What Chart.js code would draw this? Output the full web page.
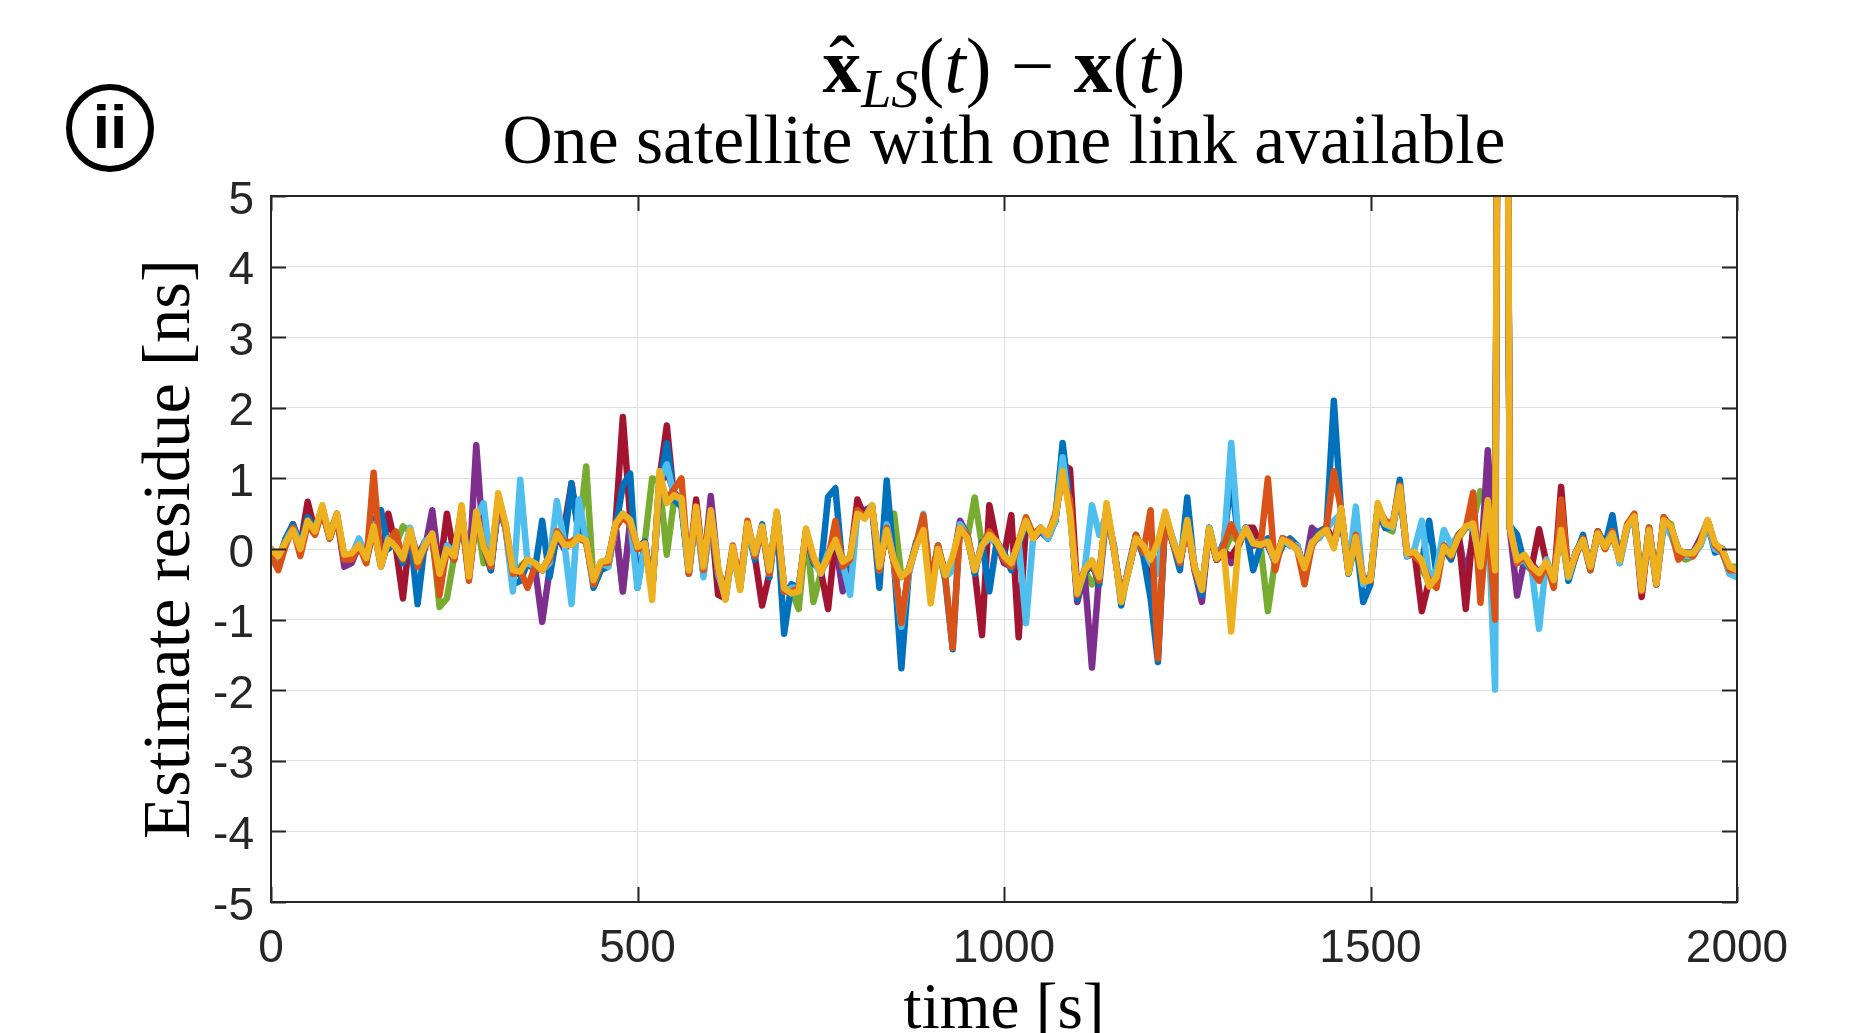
<!DOCTYPE html>
<html>
<head>
<meta charset="utf-8">
<title>Estimate residue</title>
<script src="https://cdn.jsdelivr.net/npm/chart.js@4.4.0/dist/chart.umd.min.js"></script>
<style>
  html, body { margin: 0; padding: 0; background: #ffffff; }
  #wrap { width: 1854px; height: 1033px; }
</style>
</head>
<body>
<div id="wrap"><canvas id="residueChart" width="1854" height="1033"></canvas></div>
<script>
// sample times [s], one every 10 s
const times = Array.from({ length: 201 }, (_, i) => i * 10);

const xTicks = [0, 500, 1000, 1500, 2000];
const yTicks = [-5, -4, -3, -2, -1, 0, 1, 2, 3, 4, 5];

// residues [ns] (one run per colour)
const run1 = [ // blue
  -0.05,-0.2,0.15,0.35,0.05,0.45,0.3,0.5,0.2,0.45,-0.15,-0.1,0.1,-0.1,0.4,0.55,0.0,0.1,-0.2,0.2,
  -0.78,0.1,0.2,-0.45,0.05,-0.15,0.45,-0.4,0.45,0.1,-0.3,0.6,0.3,-0.5,-0.45,-0.2,-0.3,0.4,-0.4,0.2,
  0.1,0.93,0.2,0.15,-0.55,-0.3,-0.25,0.3,0.9,1.07,-0.55,0.1,-0.6,0.9,1.5,0.7,0.6,-0.35,0.55,-0.35,
  0.45,-0.3,-0.6,0.0,-0.55,0.3,-0.15,0.35,-0.4,0.45,-1.2,-0.5,-0.55,0.2,-0.2,-0.3,0.74,0.86,-0.3,-0.2,
  0.55,0.45,0.6,-0.55,0.97,-0.2,-1.69,-0.35,0.1,0.3,-0.55,0.05,-0.45,-1.42,0.35,0.2,-0.35,0.1,-0.6,0.1,
  -0.05,-0.3,0.05,0.35,0.2,0.25,0.15,0.4,1.5,0.6,-0.7,-0.35,-0.2,-0.5,0.5,0.05,-0.8,-0.25,0.2,-0.1,
  -0.7,-1.6,0.45,0.1,-0.3,0.73,-0.3,-0.65,0.3,-0.15,0.1,1.02,0.1,0.3,-0.3,0.05,0.15,-0.2,0.05,0.15,
  0.05,-0.35,0.05,0.25,0.3,2.1,0.5,-0.35,0.15,-0.75,-0.5,0.55,0.3,0.3,0.98,-0.1,-0.05,-0.2,0.4,-0.35,
  0.0,-0.15,0.2,0.3,0.35,-0.3,0.6,-0.6,22.0,0.33,0.2,-0.2,-0.3,-0.3,-0.25,-0.4,0.3,-0.45,-0.1,0.2,
  -0.3,0.25,0.05,0.48,-0.2,0.3,0.45,-0.55,0.3,-0.45,0.35,0.25,-0.05,-0.05,-0.05,0.05,0.35,-0.05,0.0,-0.35,
  -0.35
];
const run2 = [ // orange
  -0.1,-0.3,0.05,0.3,-0.1,0.35,0.2,0.55,0.15,0.45,-0.15,-0.15,0.05,-0.2,1.08,-0.2,0.1,0.25,-0.15,0.2,
  -0.25,0.05,0.15,-0.65,0.0,-0.15,0.5,-0.45,0.45,0.05,-0.25,0.7,0.3,-0.35,-0.3,-0.55,-0.25,-0.3,-0.15,0.25,
  0.1,0.1,0.15,0.1,-0.5,-0.2,-0.2,0.3,0.45,0.35,0.0,0.05,-0.6,1.0,0.7,0.85,1.0,-0.35,0.55,-0.3,
  0.5,-0.3,-0.65,0.05,-0.5,0.4,-0.1,0.3,-0.35,0.45,-0.6,-0.6,-0.55,0.25,-0.15,-0.3,-0.15,0.4,-0.25,-0.15,
  0.55,0.45,0.6,-0.3,0.3,-0.2,-1.05,-0.3,0.05,0.48,-0.5,0.05,-0.4,-1.4,0.3,0.2,-0.3,0.05,0.25,0.1,
  -0.15,-0.25,0.1,0.45,0.2,0.3,0.2,0.5,1.0,0.7,-0.65,-0.3,-0.2,-0.45,0.6,0.0,-0.7,-0.3,0.2,-0.05,
  0.55,-1.55,0.5,0.1,-0.2,0.35,-0.3,-0.55,0.25,-0.15,0.05,0.35,0.1,0.25,0.1,0.05,1.0,-0.3,0.15,0.1,
  0.0,-0.5,0.05,0.2,0.3,1.1,0.55,-0.3,0.2,-0.45,-0.45,0.6,0.4,0.35,0.9,-0.05,-0.1,-0.2,-0.45,-0.55,
  0.05,-0.1,0.2,0.3,0.8,-0.76,0.5,-1.0,23.0,0.3,-0.2,-0.1,-0.3,-0.45,-0.2,-0.55,0.7,-0.35,-0.1,0.15,
  -0.3,0.25,0.0,0.25,-0.15,0.35,0.5,-0.6,0.3,-0.5,0.45,0.3,-0.15,-0.05,-0.1,0.1,0.4,0.05,-0.05,-0.3,
  -0.3
];
const run3 = [ // yellow
  0.0,-0.1,0.1,0.27,0.0,0.4,0.25,0.62,0.17,0.5,-0.08,-0.06,0.06,-0.13,0.32,-0.25,0.13,0.03,-0.13,0.27,
  -0.18,0.05,0.22,-0.35,0.0,-0.1,0.62,-0.39,0.53,0.03,-0.2,0.79,0.36,-0.3,-0.32,-0.15,-0.2,-0.3,-0.1,0.22,
  0.06,0.06,0.17,0.12,-0.44,-0.18,-0.16,0.36,0.5,0.41,0.03,0.08,-0.72,1.1,0.65,0.76,0.72,-0.3,0.6,-0.25,
  0.55,-0.25,-0.72,0.03,-0.58,0.36,-0.06,0.32,-0.3,0.53,-0.55,-0.63,-0.6,0.29,-0.1,-0.34,-0.1,0.13,-0.18,-0.11,
  0.5,0.43,0.62,-0.25,0.27,-0.16,-0.39,-0.3,0.03,0.27,-0.77,0.0,-0.37,-0.1,0.3,0.15,-0.3,0.05,0.2,0.1,
  -0.1,-0.2,0.1,0.4,0.15,0.3,0.2,0.45,1.1,0.5,-0.63,-0.3,-0.16,-0.4,0.65,0.0,-0.75,-0.3,0.15,0.05,
  -0.15,0.1,0.53,0.13,-0.16,0.41,-0.25,-0.58,0.29,-0.13,-0.04,-1.17,0.08,0.29,0.08,0.06,0.1,-0.16,0.13,0.08,
  -0.01,-0.27,0.08,0.2,0.27,0.01,0.58,-0.34,0.17,-0.46,-0.44,0.65,0.36,0.32,0.88,-0.06,-0.04,-0.16,-0.53,-0.4,
  0.03,-0.08,0.17,0.32,0.36,-0.25,0.69,-0.3,23.4,0.3,-0.16,-0.08,-0.25,-0.34,-0.18,-0.44,0.27,-0.39,-0.06,0.13,
  -0.25,0.22,0.03,0.22,-0.16,0.32,0.46,-0.58,0.27,-0.49,0.41,0.32,-0.01,-0.06,-0.06,0.08,0.41,0.08,-0.01,-0.25,
  -0.3
];
const run4 = [ // purple
  -0.05,-0.2,0.1,0.3,0.05,0.45,0.25,0.6,0.15,0.45,-0.25,-0.2,0.05,-0.15,0.3,-0.25,0.1,0.05,-0.1,0.25,
  -0.15,0.0,0.55,-0.3,0.05,-0.1,0.55,-0.35,1.47,0.05,-0.25,0.6,0.35,-0.3,-0.35,-0.2,-0.25,-1.03,-0.3,0.2,
  0.0,0.1,0.15,0.1,-0.45,-0.2,-0.2,0.35,-0.6,0.4,0.0,0.1,-0.6,0.9,1.1,0.8,0.7,-0.3,0.5,-0.3,
  0.75,-0.3,-0.65,0.0,-0.5,0.35,-0.1,0.3,-0.35,0.5,-0.55,-0.55,-0.55,0.25,-0.15,-0.3,-0.1,0.1,-0.6,-0.2,
  0.55,0.55,0.6,-0.3,0.3,-0.2,-1.1,-0.3,0.05,0.3,-0.5,0.0,-0.35,-0.2,0.4,0.2,-0.3,0.05,0.15,0.1,
  -0.2,-0.25,0.1,0.4,0.15,0.25,0.2,0.4,1.25,0.6,-0.75,-0.35,-1.68,-0.35,0.55,0.0,-0.7,-0.3,0.15,0.0,
  -0.2,-0.3,0.45,0.1,-0.2,0.4,-0.3,-0.75,0.3,-0.15,-0.05,-0.2,0.05,0.3,0.05,0.1,0.05,-0.2,0.15,0.05,
  0.05,-0.3,0.3,0.2,0.25,0.05,0.45,-0.3,0.2,-0.45,-0.4,0.6,0.3,0.3,0.85,-0.1,-0.05,-0.2,-0.5,-0.35,
  0.0,-0.1,0.2,-0.4,0.2,-0.3,1.4,-0.3,23.0,0.3,-0.66,-0.15,-0.2,-0.35,-0.2,-0.4,0.3,-0.4,-0.05,0.1,
  -0.25,0.2,0.05,0.25,-0.15,0.3,0.45,-0.6,0.25,-0.5,0.4,0.3,0.0,-0.1,-0.05,0.15,0.35,0.05,0.0,-0.3,
  -0.3
];
const run5 = [ // green
  -0.05,-0.15,0.15,0.3,0.0,0.4,0.3,0.55,0.15,0.45,-0.1,-0.15,0.1,-0.2,0.3,-0.2,0.1,0.05,0.32,0.25,
  -0.2,0.05,0.2,-0.82,-0.7,-0.1,0.55,-0.35,0.5,-0.2,-0.15,0.7,0.3,-0.3,-0.25,-0.15,-0.2,-0.3,-0.1,0.25,
  0.05,0.1,0.2,1.17,-0.5,-0.2,-0.15,0.3,-0.6,0.35,0.0,0.1,1.0,0.95,-0.08,0.7,0.7,-0.35,0.6,-0.3,
  0.5,-0.3,-0.6,0.0,-0.55,0.35,-0.1,0.3,-0.3,0.5,-0.55,-0.6,-0.85,0.25,-0.75,-0.35,-0.1,0.1,-0.2,-0.15,
  0.5,0.45,0.6,-0.3,0.3,0.5,-0.4,-0.3,0.05,0.3,-0.5,0.05,-0.35,-0.15,0.3,0.15,0.73,0.05,0.2,0.05,
  -0.1,-0.2,0.1,0.35,0.2,0.3,0.15,0.45,1.45,0.55,-0.65,-0.3,-0.5,-0.35,0.5,0.0,-0.65,-0.3,0.15,0.05,
  -0.2,-0.3,0.45,0.15,-0.2,0.35,-0.25,-0.6,0.3,-0.15,-0.05,0.2,0.1,0.3,0.05,0.05,-0.88,-0.15,0.1,0.1,
  0.0,-0.3,0.1,0.2,0.3,0.05,0.5,-0.35,0.2,-0.45,-0.4,0.55,0.3,0.25,0.9,-0.1,-0.05,-0.3,-0.45,-0.4,
  0.05,-0.1,0.15,0.3,0.4,0.82,0.55,-0.4,22.5,0.3,-0.2,-0.1,-0.25,-0.35,-0.2,-0.4,0.3,-0.35,-0.05,0.15,
  -0.3,0.25,0.0,0.2,-0.15,0.3,0.45,-0.5,0.3,-0.45,0.4,0.35,-0.1,-0.15,-0.1,0.15,0.4,0.05,-0.05,-0.25,
  -0.25
];
const run6 = [ // light blue
  -0.05,-0.2,0.1,0.3,0.05,0.35,0.3,0.55,0.2,0.45,-0.1,-0.1,0.15,-0.1,0.35,-0.2,0.15,0.1,-0.1,0.3,
  -0.2,0.1,0.2,-0.4,0.05,-0.05,0.5,-0.3,0.45,0.65,-0.25,0.7,0.3,-0.6,0.98,-0.2,-0.25,-0.3,-0.2,0.68,
  0.1,-0.78,0.7,0.1,-0.5,-0.2,-0.25,0.3,0.5,0.4,-0.55,0.05,-0.6,0.95,1.2,0.75,0.7,-0.35,0.5,-0.4,
  0.5,-0.35,-0.7,0.0,-0.55,0.3,-0.1,0.3,-0.35,0.5,-0.6,-0.55,-0.55,0.25,-0.15,-0.35,-0.05,0.1,-0.2,-0.65,
  0.5,0.45,0.62,-0.3,0.35,-0.2,-1.1,-0.35,0.05,0.5,-0.5,0.0,-0.4,-0.3,0.35,0.2,-0.3,0.05,0.15,0.1,
  -0.1,-0.2,0.1,-1.05,0.2,0.3,0.15,0.4,1.3,0.5,-0.6,-0.3,0.62,0.2,0.5,0.0,-0.7,-0.3,0.15,0.05,
  -0.2,-0.35,0.5,0.15,-0.15,0.35,-0.25,-0.55,0.3,-0.1,0.05,1.5,0.1,0.3,0.1,0.1,0.1,-0.2,0.15,0.05,
  0.05,-0.3,0.1,0.15,0.3,0.4,0.5,-0.3,0.6,-0.5,-0.4,0.6,0.35,0.3,0.85,-0.1,0.0,0.4,-0.4,-0.3,
  0.27,0.05,0.2,0.3,0.3,-0.2,0.55,-1.99,23.5,0.35,-0.2,-0.15,-0.3,-1.13,-0.15,-0.4,0.3,-0.4,-0.05,0.1,
  -0.3,0.2,0.05,0.25,-0.2,0.3,0.4,-0.55,0.3,-0.5,0.35,0.2,-0.1,-0.1,-0.1,0.05,0.35,0.0,-0.05,-0.35,
  -0.4
];
const run7 = [ // dark red
  0.0,-0.2,0.1,0.35,0.05,0.67,0.25,0.55,0.2,0.5,-0.15,-0.1,0.1,-0.15,0.3,-0.2,0.5,0.05,-0.7,0.25,
  -0.1,0.1,0.2,-0.3,0.5,-0.1,0.55,-0.4,0.5,0.05,-0.3,0.7,0.3,-0.4,-0.3,-0.15,-0.25,-0.3,-0.1,0.2,
  0.3,0.93,0.2,0.1,-0.45,-0.2,-0.15,0.35,1.87,0.45,0.0,0.1,-0.6,1.0,1.75,0.7,0.65,-0.3,0.7,-0.25,
  0.5,-0.65,-0.7,0.0,-0.5,0.35,-0.1,-0.8,-0.35,0.5,-0.6,-0.6,-0.55,0.25,-0.15,-0.3,-0.85,0.15,-0.2,-0.15,
  0.7,0.45,0.6,-0.3,0.3,-0.2,-1.1,-0.3,0.05,0.3,-0.5,0.0,-0.35,-0.2,0.3,0.15,-0.3,-1.22,0.62,0.1,
  -0.1,0.48,-1.25,0.35,0.2,0.25,0.2,0.4,1.2,1.13,-0.6,-0.3,-0.25,-0.4,0.55,0.0,-0.7,-0.3,0.15,0.05,
  -0.15,-1.5,0.45,0.1,-0.2,0.35,-0.25,-0.6,0.25,-0.15,-0.05,-0.1,0.05,0.3,0.3,0.05,0.1,-0.2,0.15,0.1,
  0.0,-0.3,0.05,0.25,0.3,0.1,0.55,-0.3,0.3,-0.5,-0.45,0.6,0.35,0.3,0.85,-0.1,-0.05,-0.88,-0.45,-0.4,
  0.05,-0.1,0.2,-0.85,0.3,-0.3,0.6,-0.5,23.0,0.3,-0.2,-0.15,-0.25,0.28,-0.2,-0.5,0.88,-0.4,-0.05,0.15,
  -0.25,0.25,0.05,0.2,-0.15,0.3,0.45,-0.68,0.3,-0.5,0.45,0.3,-0.05,-0.1,-0.1,0.1,0.4,0.05,-0.05,-0.3,
  -0.35
];

// MATLAB default colour order; z = draw order (0 drawn on top)
const runs = [
  { data: run1, color: '#0072BD', z: 3 },
  { data: run2, color: '#D95319', z: 1 },
  { data: run3, color: '#EDB120', z: 0 },
  { data: run4, color: '#7E2F8E', z: 5 },
  { data: run5, color: '#77AC30', z: 6 },
  { data: run6, color: '#4DBEEE', z: 2 },
  { data: run7, color: '#A2142F', z: 4 }
];

const AXIS = '#262626';
const SERIF = '"Liberation Serif", "DejaVu Serif", serif';
const SANS = '"Liberation Sans", Arial, sans-serif';

// fit a font size so the text takes a given width
function fitSize(ctx, text, style, width) {
  ctx.font = style + ' 100px ' + SERIF;
  return 100 * width / ctx.measureText(text).width;
}

function drawFormula(ctx, cx, baseline, width) {
  let size = 60;
  const parts = s => [
    { t: 'x', f: 'bold ' + s + 'px ' + SERIF, hat: true },
    { t: 'LS', f: 'italic ' + (s * 0.7) + 'px ' + SERIF, dy: s * 0.2 },
    { t: '(', f: s + 'px ' + SERIF },
    { t: 't', f: 'italic ' + s + 'px ' + SERIF },
    { t: ')', f: s + 'px ' + SERIF },
    { t: ' \u2212 ', f: s + 'px ' + SERIF },
    { t: 'x', f: 'bold ' + s + 'px ' + SERIF },
    { t: '(', f: s + 'px ' + SERIF },
    { t: 't', f: 'italic ' + s + 'px ' + SERIF },
    { t: ')', f: s + 'px ' + SERIF }
  ];
  const measure = list => list.reduce((w, p) => { ctx.font = p.f; return w + ctx.measureText(p.t).width; }, 0);
  size = size * width / measure(parts(size));
  const list = parts(size);
  let x = cx - measure(list) / 2;
  ctx.textAlign = 'left';
  ctx.textBaseline = 'alphabetic';
  list.forEach(p => {
    ctx.font = p.f;
    const w = ctx.measureText(p.t).width;
    ctx.fillText(p.t, x, baseline + (p.dy || 0));
    if (p.hat) {
      ctx.textAlign = 'center';
      ctx.font = size + 'px ' + SERIF;
      ctx.fillText('\u02C6', x + w / 2, baseline - size * 0.02);
      ctx.textAlign = 'left';
    }
    x += w;
  });
}

const decor = {
  id: 'decor',
  afterDraw(chart) {
    const ctx = chart.ctx;
    const a = chart.chartArea;
    const xs = chart.scales.x, ys = chart.scales.y;
    ctx.save();

    // axes box and inward ticks
    ctx.strokeStyle = AXIS;
    ctx.lineWidth = 2;
    ctx.strokeRect(a.left, a.top, a.right - a.left, a.bottom - a.top);
    ctx.beginPath();
    xTicks.forEach(v => {
      const px = Math.round(xs.getPixelForValue(v)) + 0.5;
      ctx.moveTo(px, a.bottom); ctx.lineTo(px, a.bottom - 15);
      ctx.moveTo(px, a.top); ctx.lineTo(px, a.top + 15);
    });
    yTicks.forEach(v => {
      const py = Math.round(ys.getPixelForValue(v)) + 0.5;
      ctx.moveTo(a.left, py); ctx.lineTo(a.left + 15, py);
      ctx.moveTo(a.right, py); ctx.lineTo(a.right - 15, py);
    });
    ctx.stroke();

    const cx = (a.left + a.right) / 2;
    ctx.fillStyle = '#000000';

    // title, two lines
    drawFormula(ctx, cx, 92, 363);
    const line2 = 'One satellite with one link available';
    ctx.font = fitSize(ctx, line2, '', 1003) + 'px ' + SERIF;
    ctx.textAlign = 'center';
    ctx.textBaseline = 'alphabetic';
    ctx.fillText(line2, cx, 163);

    // axis titles
    const xt = 'time [s]';
    ctx.font = fitSize(ctx, xt, '', 201) + 'px ' + SERIF;
    ctx.fillText(xt, cx, 1028);

    const yt = 'Estimate residue [ns]';
    ctx.save();
    ctx.translate(189, (a.top + a.bottom) / 2);
    ctx.rotate(-Math.PI / 2);
    ctx.font = fitSize(ctx, yt, '', 580) + 'px ' + SERIF;
    ctx.fillText(yt, 0, 0);
    ctx.restore();

    // panel marker
    ctx.beginPath();
    ctx.lineWidth = 6;
    ctx.strokeStyle = '#000000';
    ctx.arc(110, 128, 41, 0, Math.PI * 2);
    ctx.stroke();
    ctx.font = 'bold 62px ' + SANS;
    ctx.textAlign = 'center';
    ctx.textBaseline = 'middle';
    ctx.fillText('ii', 110, 131);

    ctx.restore();
  }
};

new Chart(document.getElementById('residueChart'), {
  type: 'line',
  data: {
    datasets: runs.map(r => ({
      data: times.map((t, i) => ({ x: t, y: r.data[i] })),
      borderColor: r.color,
      backgroundColor: r.color,
      borderWidth: 6.5,
      pointRadius: 0,
      tension: 0,
      fill: false,
      clip: 0,
      order: r.z,
      borderJoinStyle: 'round',
      borderCapStyle: 'round'
    }))
  },
  options: {
    responsive: false,
    animation: false,
    devicePixelRatio: 1,
    layout: { padding: { left: 0, top: 196, right: 117, bottom: 0 } },
    plugins: { legend: { display: false }, tooltip: { enabled: false }, title: { display: false } },
    scales: {
      x: {
        type: 'linear',
        min: 0,
        max: 2000,
        afterBuildTicks: s => { s.ticks = xTicks.map(v => ({ value: v })); },
        afterFit: s => { s.height = 131; },
        ticks: { color: AXIS, font: { family: SANS, size: 46 }, padding: 20, maxRotation: 0, callback: v => String(v) },
        grid: { color: '#e0e0e0', lineWidth: 1, drawTicks: false },
        border: { display: false }
      },
      y: {
        type: 'linear',
        min: -5,
        max: 5,
        afterBuildTicks: s => { s.ticks = yTicks.map(v => ({ value: v })); },
        afterFit: s => { s.width = 271; },
        ticks: { color: AXIS, font: { family: SANS, size: 46 }, padding: 17, labelOffset: 5, callback: v => String(v) },
        grid: { color: '#e0e0e0', lineWidth: 1, drawTicks: false },
        border: { display: false }
      }
    }
  },
  plugins: [decor]
});
</script>
</body>
</html>
